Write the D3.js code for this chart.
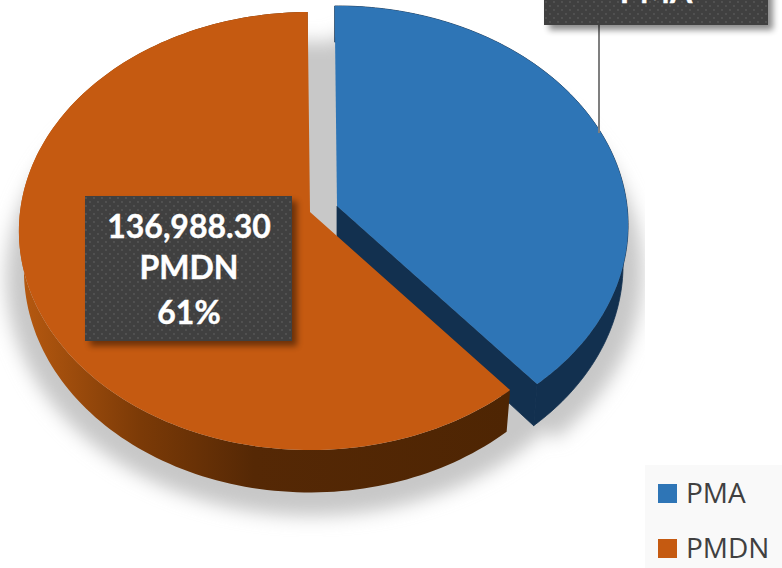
<!DOCTYPE html>
<html>
<head>
<meta charset="utf-8">
<script src="https://cdnjs.cloudflare.com/ajax/libs/d3/7.8.5/d3.min.js"></script>
<style>
  html, body { margin: 0; padding: 0; background: #fff; overflow: hidden; }
  svg { display: block; }
  text { font-family: Lato, "Open Sans", sans-serif; }
  .box-text { font-weight: 700; font-size: 32px; fill: #fff; stroke: #fff; stroke-width: 0.4; text-anchor: middle; }
  .legend-text { font-family: "Open Sans", sans-serif; font-size: 28px; fill: #404040; }
</style>
</head>
<body>
<svg width="782" height="568"></svg>
<script>
categories = ['PMA', 'PMDN']
values = [87583.00, 136988.30]
sliceColors = ['#2e75b6', '#c55a11']

WIDTH = 782
HEIGHT = 568
START_DEG = -0.5

// a disc seen in perspective: R wide, S deep, k is how much the near side grows
TOP_DISC = {x: 310, y: 212, R: 290, S: 217.4, k: 0.0868}
BOTTOM_DISC = {x: 310, y: 251, R: 285, S: 220.5, k: 0.0868}
SHADOW_DISC = {x: 311, y: 246, R: 302, S: 233, k: 0.137}
EXPLODE = [[27, -6], [0, 0]]

total = d3.sum(values)
pie = d3.pie().sort(null)
  .startAngle(START_DEG * Math.PI / 180)
  .endAngle((START_DEG + 360) * Math.PI / 180)
slices = pie(values)

fmtValue = d3.format(',.2f')
fmtPct = d3.format('.0%')
line = d3.line()

function project(disc, a, r, i) {
  u = r * Math.sin(a)
  v = -r * Math.cos(a)
  w = 1 - disc.k * v
  return [disc.x + EXPLODE[i][0] + disc.R * u / w, disc.y + EXPLODE[i][1] + disc.S * v / w]
}

function rim(disc, d, i) {
  n = 160
  return d3.range(n + 1).map(function (j) {
    return project(disc, d.startAngle + (d.endAngle - d.startAngle) * j / n, 1, i)
  })
}

function wedge(disc, d, i) {
  return line([project(disc, 0, 0, i)].concat(rim(disc, d, i))) + 'Z'
}

function wall(d, i) {
  return line(rim(TOP_DISC, d, i).concat(rim(BOTTOM_DISC, d, i).reverse())) + 'Z'
}

function cutWall(d, i) {
  return line([
    project(TOP_DISC, 0, 0, i),
    project(TOP_DISC, d.endAngle, 1, i),
    project(BOTTOM_DISC, d.endAngle, 1, i),
    project(BOTTOM_DISC, 0, 0, i)
  ]) + 'Z'
}

svg = d3.select('svg')
defs = svg.append('defs')

defs.append('filter').attr('id', 'soft').attr('x', '-20%').attr('y', '-20%').attr('width', '140%').attr('height', '140%')
  .append('feGaussianBlur').attr('stdDeviation', 9)
defs.append('filter').attr('id', 'boxShadow').attr('x', '-20%').attr('y', '-20%').attr('width', '140%').attr('height', '140%')
  .append('feGaussianBlur').attr('stdDeviation', 3)
defs.append('clipPath').attr('id', 'shadowClip')
  .append('rect').attr('width', 645).attr('height', HEIGHT)

dots = defs.append('pattern').attr('id', 'dots').attr('patternUnits', 'userSpaceOnUse')
  .attr('width', 8).attr('height', 8)
dots.append('rect').attr('width', 8).attr('height', 8).attr('fill', '#404040')
dots.selectAll('circle').data([2, 6]).enter().append('circle')
  .attr('cx', function (d) { return d })
  .attr('cy', function (d) { return d })
  .attr('r', 0.9)
  .attr('fill', '#585858')

grad = defs.append('linearGradient').attr('id', 'pmdnWall').attr('gradientUnits', 'userSpaceOnUse')
  .attr('x1', 18).attr('x2', 510).attr('y1', 0).attr('y2', 0)
grad.selectAll('stop').data([[0, '#b85a10'], [0.25, '#7b3a07'], [0.48, '#552805'], [1, '#4e2503']]).enter().append('stop')
  .attr('offset', function (d) { return d[0] })
  .attr('stop-color', function (d) { return d[1] })

// soft shadow below the whole pie, the full disc fills the gap between the slices
shadow = svg.append('g').attr('clip-path', 'url(#shadowClip)')
  .append('g').attr('filter', 'url(#soft)')
shadow.append('path')
  .attr('d', wedge(SHADOW_DISC, {startAngle: 0, endAngle: 2 * Math.PI}, 1))
  .attr('fill', '#c8c8c8')
shadow.append('path')
  .attr('d', wedge(SHADOW_DISC, slices[0], 0))
  .attr('fill', '#c8c8c8')

wallFill = ['#12304f', 'url(#pmdnWall)']
sliceG = svg.selectAll('g.slice').data(slices).enter().append('g').attr('class', 'slice')
sliceG.append('path')
  .attr('d', cutWall)
  .attr('fill', function (d, i) { return i == 0 ? wallFill[0] : 'none' })
  .attr('stroke', function (d, i) { return i == 0 ? wallFill[0] : 'none' })
  .attr('stroke-width', 0.8)
sliceG.append('path')
  .attr('d', wall)
  .attr('fill', function (d, i) { return wallFill[i] })
  .attr('stroke', function (d, i) { return i == 0 ? wallFill[0] : 'none' })
  .attr('stroke-width', 0.8)
sliceG.append('path')
  .attr('d', function (d, i) { return wedge(TOP_DISC, d, i) })
  .attr('fill', function (d, i) { return sliceColors[i] })

// leader from the PMA label down to the pie
svg.append('line')
  .attr('x1', 599).attr('x2', 599).attr('y1', 25).attr('y2', 133)
  .attr('stroke', '#7f7f7f').attr('stroke-width', 2)

// data labels, the PMA one runs off the top of the picture and only its last line shows
labelBoxes = [
  {x: 544, y: -120, w: 224, h: 145, cx: 656, lines: [3]},
  {x: 85, y: 196, w: 207, h: 145, cx: 189, lines: [238, 279, 324]}
]
labelText = [
  [categories[0]],
  [fmtValue(values[1]), categories[1], fmtPct(values[1] / total)]
]
labels = svg.selectAll('g.label').data(slices).enter().append('g').attr('class', 'label')
labels.append('rect')
  .attr('x', function (d, i) { return labelBoxes[i].x + 5 })
  .attr('y', function (d, i) { return labelBoxes[i].y + 5 })
  .attr('width', function (d, i) { return labelBoxes[i].w })
  .attr('height', function (d, i) { return labelBoxes[i].h })
  .attr('fill', '#000').attr('opacity', 0.45)
  .attr('filter', 'url(#boxShadow)')
labels.append('rect')
  .attr('x', function (d, i) { return labelBoxes[i].x })
  .attr('y', function (d, i) { return labelBoxes[i].y })
  .attr('width', function (d, i) { return labelBoxes[i].w })
  .attr('height', function (d, i) { return labelBoxes[i].h })
  .attr('fill', 'url(#dots)')
labels.each(function (d, i) {
  d3.select(this).selectAll('text').data(labelText[i]).enter().append('text')
    .attr('class', 'box-text')
    .attr('x', labelBoxes[i].cx)
    .attr('y', function (t, j) { return labelBoxes[i].lines[j] })
    .text(function (t) { return t })
})

// legend
legendY = d3.scalePoint().domain(categories).range([484, 539])
svg.append('rect')
  .attr('x', 645).attr('y', 465).attr('width', 137).attr('height', 103)
  .attr('fill', '#f9f9f9')
legend = svg.selectAll('g.legend').data(categories).enter().append('g')
  .attr('class', 'legend')
  .attr('transform', function (d) { return 'translate(658,' + legendY(d) + ')' })
legend.append('rect')
  .attr('width', 19).attr('height', 19)
  .attr('fill', function (d, i) { return sliceColors[i] })
legend.append('text')
  .attr('class', 'legend-text')
  .attr('x', 28).attr('y', 19)
  .text(function (d) { return d })
</script>
</body>
</html>
